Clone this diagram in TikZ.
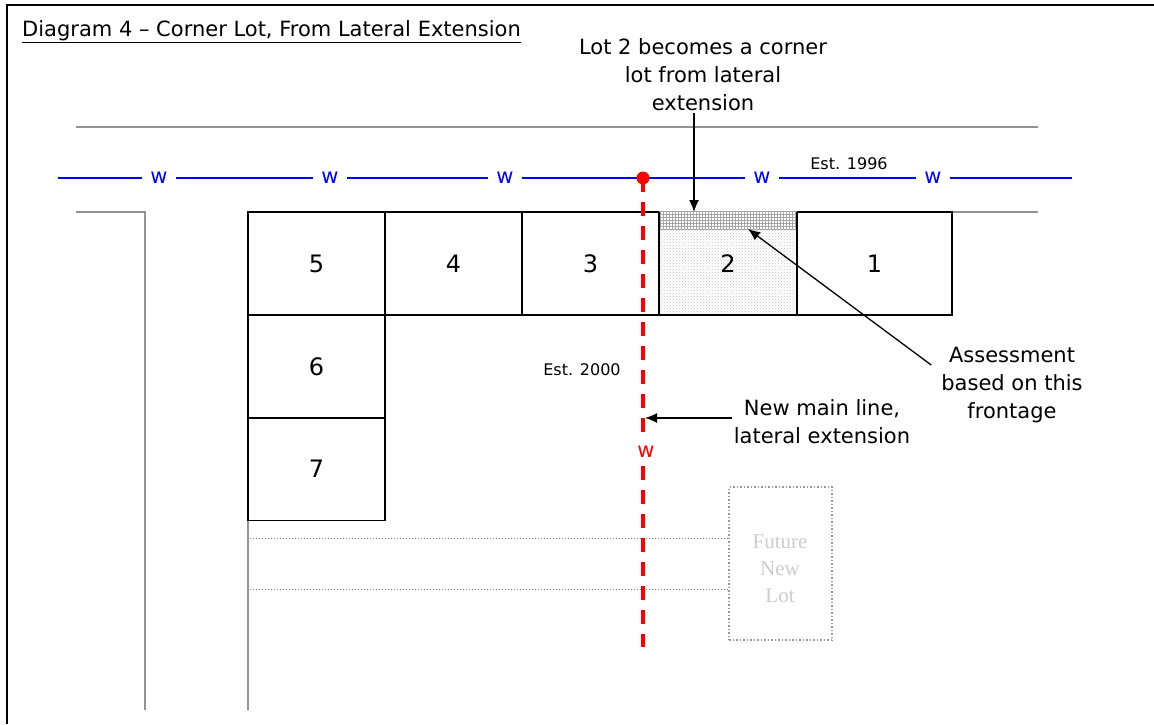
\documentclass[tikz,border=0pt]{standalone}
\usepackage{fontspec}
\setmainfont{DejaVu Sans}
\newfontfamily\lotserif{Liberation Serif}
\usetikzlibrary{arrows,arrows.meta,patterns,positioning}

\tikzset{
  lot/.style={draw, line width=1.5pt, inner sep=0pt, outer sep=0pt, minimum height=103pt, font=\fontsize{24}{26}\selectfont},
  road/.style={draw=gray!85, line width=2pt},
  note/.style={align=center, inner sep=2pt, font=\fontsize{21}{28}\selectfont},
  wlabel/.style={text=blue, fill=white, inner xsep=8pt, inner ysep=0pt, font=\fontsize{21}{22}\selectfont},
  arr/.style={->, >={Latex[length=12pt,width=10pt]}, line width=1.3pt},
}

\begin{document}
\begin{tikzpicture}[x=1pt, y=-1pt]
        \useasboundingbox (0,0) rectangle (1154,724) ;
        % frame and title
        \draw[line width=2pt] (1154,5) -- (7,5) -- (7,724) ;
        \node[anchor=base west, inner sep=0pt, font=\fontsize{21}{24}\selectfont] (title) at (22,36) {\underline{Diagram 4 – Corner Lot, From Lateral Extension}} ;

        % roads
        \draw[road] (76,127) -- (1038,127) ;
        \draw[road] (76,212) -- (145,212) -- (145,710) ;
        \draw[road] (952,212) -- (1038,212) ;

        % lots
        \node[lot, minimum width=137pt] (lot5) at (316.5,263.5) {5} ;
        \node[lot, minimum width=137pt] (lot4) at (453.5,263.5) {4} ;
        \node[lot, minimum width=137pt] (lot3) at (590.5,263.5) {3} ;
        \node[lot, draw=none, minimum width=138pt, pattern=crosshatch dots, pattern color=gray!45] (lot2) at (728,263.5) {2} ;
        \node[lot, minimum width=155pt] (lot1) at (874.5,263.5) {1} ;
        \node[lot, minimum width=137pt] (lot6) at (316.5,366.5) {6} ;
        \node[lot, minimum width=137pt] (lot7) at (316.5,469) {7} ;

        % frontage strip of lot 2
        \path[preaction={fill=white}, pattern=grid, pattern color=gray!70] ([yshift=1pt]lot2.north west) rectangle ([yshift=-17pt]lot2.north east) ;
        \draw[line width=1.5pt] (lot2.north west) -- (lot2.south west) -- (lot2.south east) -- (lot2.north east) ;

        \draw[road] (lot7.south west) -- (248,710) ;
        \draw[gray, dotted, line width=1pt] (250,538) -- (728,538) ;
        \draw[gray, dotted, line width=1pt] (250,589) -- (728,589) ;

        % future lot
        \node[draw=gray!80, dotted, line width=1.5pt, minimum width=103pt, minimum height=153pt] (future) at (780.5,563.5) {} ;
        \node[align=center, text=gray!40, font=\lotserif\fontsize{21}{27}\selectfont] (futuretxt) at (780,569) {Future\\New\\Lot} ;

        % existing main
        \coordinate (wleft) at (58,178) ;
        \coordinate (wright) at (1072,178) ;
        \draw[blue, line width=1.5pt] (wleft) -- (wright) ;
        \node[wlabel] (w1) at (159,178) {w} ;
        \node[wlabel] (w2) at (330,178) {w} ;
        \node[wlabel] (w3) at (505,178) {w} ;
        \node[wlabel] (w4) at (762,178) {w} ;
        \node[wlabel] (w5) at (933,178) {w} ;
        \node[font=\fontsize{16}{18}\selectfont] (est1) at (849,164) {Est. 1996} ;

        % new lateral extension
        \coordinate (tap) at (643,178) ;
        \coordinate (mainend) at (643,647) ;
        \draw[red, line width=4pt, dash pattern=on 14pt off 10pt] (tap) -- (mainend) ;
        \fill[red] (tap) circle (6.5pt) ;
        \node[wlabel, text=red, inner ysep=5pt] (w6) at (646,452) {w} ;
        \node[font=\fontsize{16}{18}\selectfont] (est2) at (582,370) {Est. 2000} ;

        % notes
        \node[note] (lotnote) at (703,75) {Lot 2 becomes a corner\\lot from lateral\\extension} ;
        \coordinate (striptop) at (694,212) ;
        \draw[arr] (striptop |- lotnote.south) -- (striptop) ;

        \node[note] (mainnote) at (822,422) {New main line,\\lateral extension} ;
        \coordinate (mainhit) at (645,418) ;
        \draw[arr] (mainnote.west |- mainhit) -- (mainhit) ;

        \node[note] (assess) at (1012,385) {Assessment\\based on this\\frontage} ;
        \coordinate (stripdot) at (748,229) ;
        \draw[arr] ([xshift=-8pt, yshift=20pt]assess.west) -- (stripdot) ;
    \end{tikzpicture}
\end{document}
